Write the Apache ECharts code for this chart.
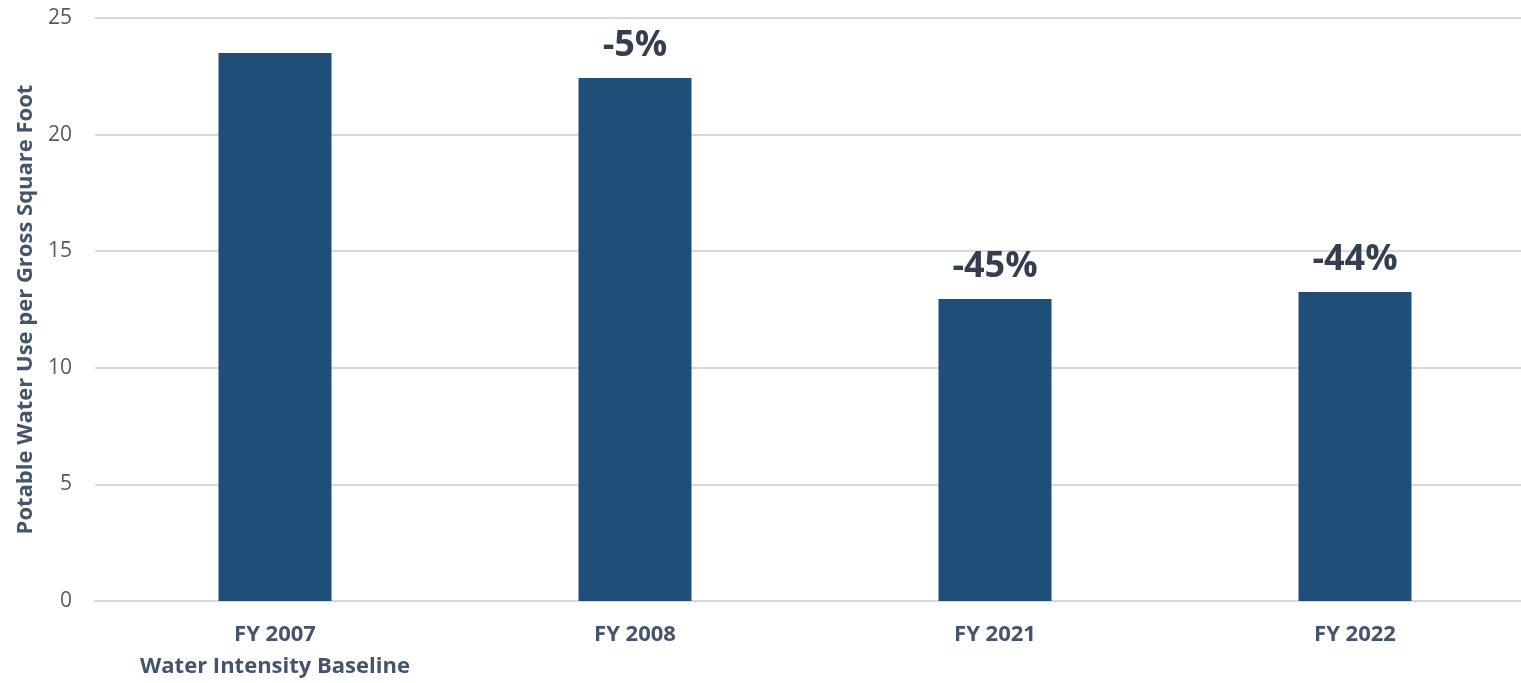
<!DOCTYPE html>
<html>
<head>
<meta charset="utf-8">
<script src="https://cdn.jsdelivr.net/npm/echarts@6/dist/echarts.min.js"></script>
<style>html,body{margin:0;padding:0;background:#fff;}#c{width:1521px;height:683px;}</style>
</head>
<body>
<div id="c"></div>
<script>
const categories = ['FY 2007\nWater Intensity Baseline', 'FY 2008', 'FY 2021', 'FY 2022'];
const values = [23.5, 22.43, 12.95, 13.25];
const changeLabels = ['', '-5%', '-45%', '-44%'];
const yTicks = { min: 0, max: 25, interval: 5 };

const chart = echarts.init(document.getElementById('c'), null, { renderer: 'canvas' });
chart.setOption({
  animation: false,
  grid: { left: 95, top: 18, bottom: 82, right: -14, containLabel: false, outerBoundsMode: 'none' },
  xAxis: {
    type: 'category',
    data: categories,
    axisLine: { lineStyle: { color: '#d9d9d9', width: 2 } },
    axisTick: { show: false },
    axisLabel: {
      color: '#44546A', fontFamily: 'Open Sans', fontWeight: 'bold', fontSize: 22,
      lineHeight: 32, margin: 18
    }
  },
  yAxis: {
    type: 'value',
    min: yTicks.min, max: yTicks.max, interval: yTicks.interval,
    name: 'Potable Water Use per Gross Square Foot',
    nameLocation: 'middle',
    nameGap: 58,
    nameTextStyle: { color: '#44546A', fontFamily: 'Open Sans', fontWeight: 'bold', fontSize: 22 },
    axisLine: { show: false },
    axisTick: { show: false },
    axisLabel: { color: '#595959', fontFamily: 'Open Sans', fontSize: 21, margin: 23 },
    splitLine: { lineStyle: { color: '#d9d9d9', width: 2 } }
  },
  series: [{
    type: 'bar',
    data: values,
    barWidth: 113,
    itemStyle: { color: '#1F4E79' },
    label: {
      show: true,
      position: 'top',
      distance: 14,
      formatter: p => changeLabels[p.dataIndex],
      color: '#333F50', fontFamily: 'Open Sans', fontWeight: 'bold', fontSize: 36, lineHeight: 36
    }
  }]
});
</script>
</body>
</html>
